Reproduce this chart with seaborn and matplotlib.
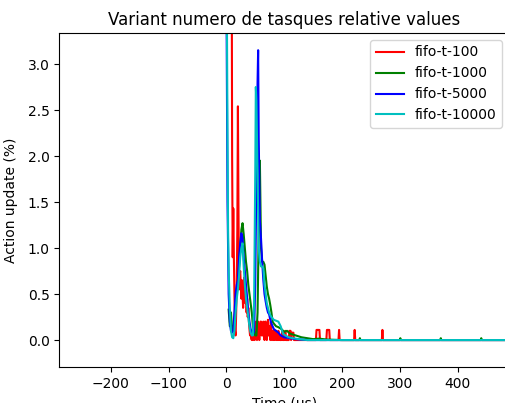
import matplotlib
matplotlib.use("Agg")
import matplotlib.pyplot as plt
import seaborn as sns
import pandas as pd

title = "Variant numero de tasques relative values"
xlabel = "Time (us)"
ylabel = "Action update (%)"
series_names = ["fifo-t-100", "fifo-t-1000", "fifo-t-5000", "fifo-t-10000"]
series_colors = ["r", "g", "b", "c"]

red_t = [4, 5, 7, 9, 10, 11, 12, 13,
         14, 15, 16, 17, 18, 19, 20, 21, 22, 23,
         24, 25, 26, 27, 28, 29, 30, 31, 32, 33,
         34, 35, 36, 37, 38, 39, 40, 41, 42, 43,
         44, 45, 46, 47, 48, 49, 50, 51, 52, 53,
         54, 55, 56, 57, 58, 59, 60, 61, 62, 63,
         64, 65, 66, 67, 68, 69, 70, 71, 72, 73,
         74, 75, 76, 77, 78, 79, 80, 81, 82, 83,
         84, 85, 86, 87, 88, 89, 90, 91, 92, 93,
         94, 95, 96, 97, 98, 99, 100, 101, 102, 103,
         108, 109, 111, 112, 113, 116, 117, 155, 156, 161,
         162, 173, 174, 178, 179, 194, 195, 196, 221, 222,
         223, 269, 270, 271, 500]
red_v = [5.0, 6.0, 7.5, 5.0, 2.0, 0.9, 1.43, 0.9,
         0.5, 0.1, 0.05, 0.3, 0.6, 1.2, 2.54, 1.4, 0.55, 0.7,
         0.75, 0.6, 0.45, 0.65, 0.5, 0.35, 0.55, 0.68, 0.5, 0.4,
         0.55, 0.3, 0.45, 0.25, 0.35, 0.2, 0.12, 0.05, 0.1, 0.02,
         0.0, 0.1, 0.0, 0.05, 0.1, 0.0, 0.1, 0.2, 0.1, 0.0,
         0.2, 0.2, 0.1, 0.0, 0.1, 0.2, 0.2, 0.05, 0.1, 0.05,
         0.2, 0.1, 0.0, 0.2, 0.2, 0.1, 0.0, 0.1, 0.22, 0.05,
         0.05, 0.15, 0.0, 0.2, 0.1, 0.0, 0.1, 0.05, 0.0, 0.1,
         0.0, 0.05, 0.1, 0.0, 0.05, 0.0, 0.1, 0.0, 0.05, 0.0,
         0.0, 0.05, 0.0, 0.1, 0.0, 0.0, 0.05, 0.0, 0.1, 0.0,
         0.0, 0.1, 0.1, 0.0, 0.08, 0.08, 0.0, 0.0, 0.11, 0.11,
         0.0, 0.0, 0.11, 0.11, 0.0, 0.0, 0.11, 0.0, 0.0, 0.11,
         0.0, 0.0, 0.11, 0.0, 0.0]

green_t = [4, 6, 8, 10, 12, 14, 16, 18,
           20, 22, 24, 26, 28, 30, 32, 34, 36, 38,
           40, 42, 44, 46, 48, 50, 52, 54, 56, 58,
           60, 62, 64, 66, 68, 70, 72, 74, 76, 78,
           80, 82, 86, 90, 95, 100, 105, 110, 115, 120,
           130, 140, 150, 160, 175, 200, 230, 231, 232, 300,
           301, 302, 370, 371, 372, 440, 441, 442, 500]
green_v = [0.33, 0.15, 0.3, 0.12, 0.1, 0.2, 0.4, 0.55,
           0.65, 0.8, 1.0, 1.2, 1.27, 1.15, 1.0, 0.85, 0.75, 0.6,
           0.5, 0.4, 0.3, 0.15, 0.1, 0.05, 0.05, 0.3, 1.2, 1.95,
           1.0, 0.85, 0.85, 0.82, 0.7, 0.58, 0.5, 0.45, 0.38, 0.3,
           0.2, 0.18, 0.15, 0.14, 0.12, 0.09, 0.1, 0.07, 0.06, 0.05,
           0.03, 0.02, 0.01, 0.015, 0.005, 0.0, 0.0, 0.02, 0.0, 0.0,
           0.02, 0.0, 0.0, 0.02, 0.0, 0.0, 0.02, 0.0, 0.0]

blue_t = [0, 2, 4, 6, 8, 10, 12, 14, 16, 18,
          20, 22, 24, 26, 28, 30, 32, 34, 36, 38,
          40, 42, 44, 46, 48, 50, 52, 54, 55, 56,
          58, 60, 62, 64, 66, 68, 70, 72, 74, 76,
          78, 82, 86, 90, 94, 100, 110, 120, 140, 500]
blue_v = [4.0, 1.5, 0.5, 0.2, 0.1, 0.08, 0.1, 0.3, 0.5, 0.6,
          0.65, 0.9, 1.05, 1.16, 1.1, 0.9, 0.75, 0.6, 0.45, 0.3,
          0.2, 0.12, 0.08, 0.06, 0.1, 0.6, 1.8, 2.8, 3.15, 2.2,
          1.3, 1.1, 0.85, 0.65, 0.5, 0.42, 0.35, 0.3, 0.28, 0.22,
          0.18, 0.12, 0.1, 0.08, 0.05, 0.03, 0.02, 0.01, 0.0, 0.0]

cyan_t = [0, 1, 2, 3, 4, 6, 8, 10, 12, 14,
          16, 18, 20, 22, 24, 26, 28, 30, 32, 34,
          36, 38, 40, 42, 44, 46, 48, 50, 51, 52,
          54, 56, 58, 60, 62, 64, 66, 68, 70, 72,
          74, 76, 78, 82, 86, 90, 94, 98, 102, 108,
          115, 125, 140, 500]
cyan_v = [4.5, 3.5, 2.2, 1.2, 0.76, 0.35, 0.1, 0.03, 0.02, 0.1,
          0.3, 0.45, 0.55, 0.7, 0.9, 1.0, 1.05, 0.8, 0.6, 0.45,
          0.35, 0.25, 0.15, 0.08, 0.05, 0.05, 0.4, 1.8, 2.75, 2.6,
          1.8, 1.0, 0.85, 0.8, 0.8, 0.78, 0.6, 0.5, 0.4, 0.35,
          0.3, 0.27, 0.25, 0.22, 0.21, 0.2, 0.15, 0.07, 0.05, 0.03,
          0.02, 0.01, 0.0, 0.0]

all_t = [red_t, green_t, blue_t, cyan_t]
all_v = [red_v, green_v, blue_v, cyan_v]

fig = plt.figure(figsize=(5.05, 4.03), dpi=100)
ax = fig.add_axes([59.3 / 505, 36 / 403, (509 - 59.3) / 505, (367 - 33) / 403])

for name, color, t, v in zip(series_names, series_colors, all_t, all_v):
    assert len(t) == len(v), name
    df = pd.DataFrame({"t": t, "v": v})
    sns.lineplot(data=df, x="t", y="v", color=color, label=name, ax=ax,
                 linewidth=1.5)

ax.set_xlim(-289, 489)
ax.set_ylim(-0.293, 3.337)
ax.set_title(title)
ax.set_xlabel(xlabel)
ax.set_ylabel(ylabel, labelpad=7)
ax.legend(loc="upper right")

fig.savefig("out.png", dpi=100)
